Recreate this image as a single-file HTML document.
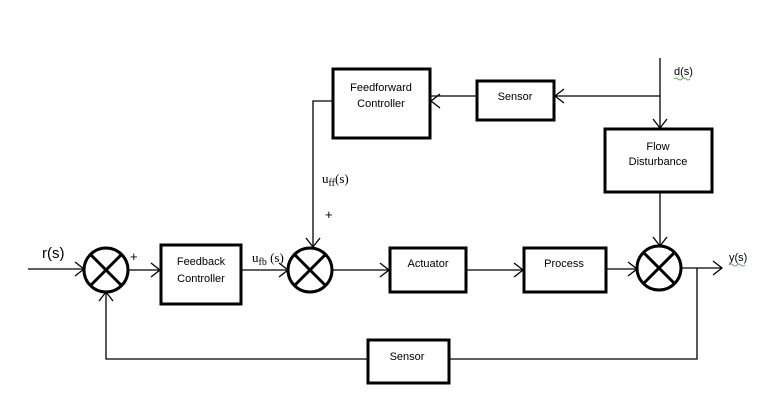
<!DOCTYPE html>
<html><head><style>body{margin:0;background:#fff}svg{display:block}</style></head><body>
<svg width="772" height="405" viewBox="0 0 772 405" xmlns="http://www.w3.org/2000/svg" font-family="Liberation Sans, sans-serif">
<rect width="772" height="405" fill="#fff"/>
<g fill="none" stroke="#000">
<g stroke-width="3">
<rect x="333" y="69" width="97" height="69"/>
<rect x="477" y="81" width="77" height="39"/>
<rect x="605" y="129" width="107" height="63"/>
<rect x="161" y="245" width="80" height="59"/>
<rect x="390" y="248" width="76" height="44"/>
<rect x="524" y="248" width="82" height="44"/>
<rect x="368" y="340" width="81" height="43"/>
<circle cx="106" cy="270" r="22"/>
<circle cx="310" cy="270" r="22"/>
<circle cx="659" cy="268" r="22"/>
<path d="M90.5 254.5L121.5 285.5M121.5 254.5L90.5 285.5"/>
<path d="M294.5 254.5L325.5 285.5M325.5 254.5L294.5 285.5"/>
<path d="M643.5 252.5L674.5 283.5M674.5 252.5L643.5 283.5"/>
</g>
<g stroke-width="1.3">
<path d="M28 269H84M128 270H160M241 270H288M332 270H389M466 270H523M606 269H637M681 268H722M697 268V359H449M368 359H106V292"/>
<path d="M660 58V128M660 193V246M660 96H555M477 96H431M333 101H313V247"/>
<path d="M75 262L84 269L75 276M151 263L160 270L151 277M279 263L288 270L279 277M380 263L389 270L380 277M514 263L523 270L514 277M628 262L637 269L628 276M713 261L722 268L713 275"/>
<path d="M99 301L106 292L113 301M306 238L313 247L320 238M653 237L660 246L667 237M653 119L660 128L667 119M564 89L555 96L564 103M440 94L431 101L440 108"/>
</g>
</g>
<g font-size="11" fill="#000" text-anchor="middle">
<text x="381" y="91">Feedforward</text><text x="381" y="107">Controller</text>
<text x="515" y="100">Sensor</text>
<text x="658" y="150">Flow</text><text x="658" y="165">Disturbance</text>
<text x="201" y="265">Feedback</text><text x="201" y="282">Controller</text>
<text x="428" y="267">Actuator</text>
<text x="564" y="267">Process</text>
<text x="407" y="360">Sensor</text>
</g>
<g font-size="15" fill="#000">
<text x="42" y="258">r(s)</text>
<text x="130" y="261" font-size="13">+</text>
<text x="325" y="219" font-size="13">+</text>
</g>
<g font-family="Liberation Serif, serif" font-size="13" fill="#000">
<text x="252" y="262">u<tspan font-size="10" dy="3">fb</tspan><tspan dy="-3"> (s)</tspan></text>
<text x="322" y="183">u<tspan font-size="10" dy="3">ff</tspan><tspan dy="-3">(s)</tspan></text>
</g>
<g font-size="11" fill="#000">
<text x="674" y="75">d(s)</text>
<text x="729" y="261">y(s)</text>
</g>
<path d="M674 79q2-2 4 0t4 0t4 0t4 0M729 265q2-2 4 0t4 0t4 0t4 0" stroke="#6a6" fill="none" stroke-width="1"/>
</svg>
</body></html>
